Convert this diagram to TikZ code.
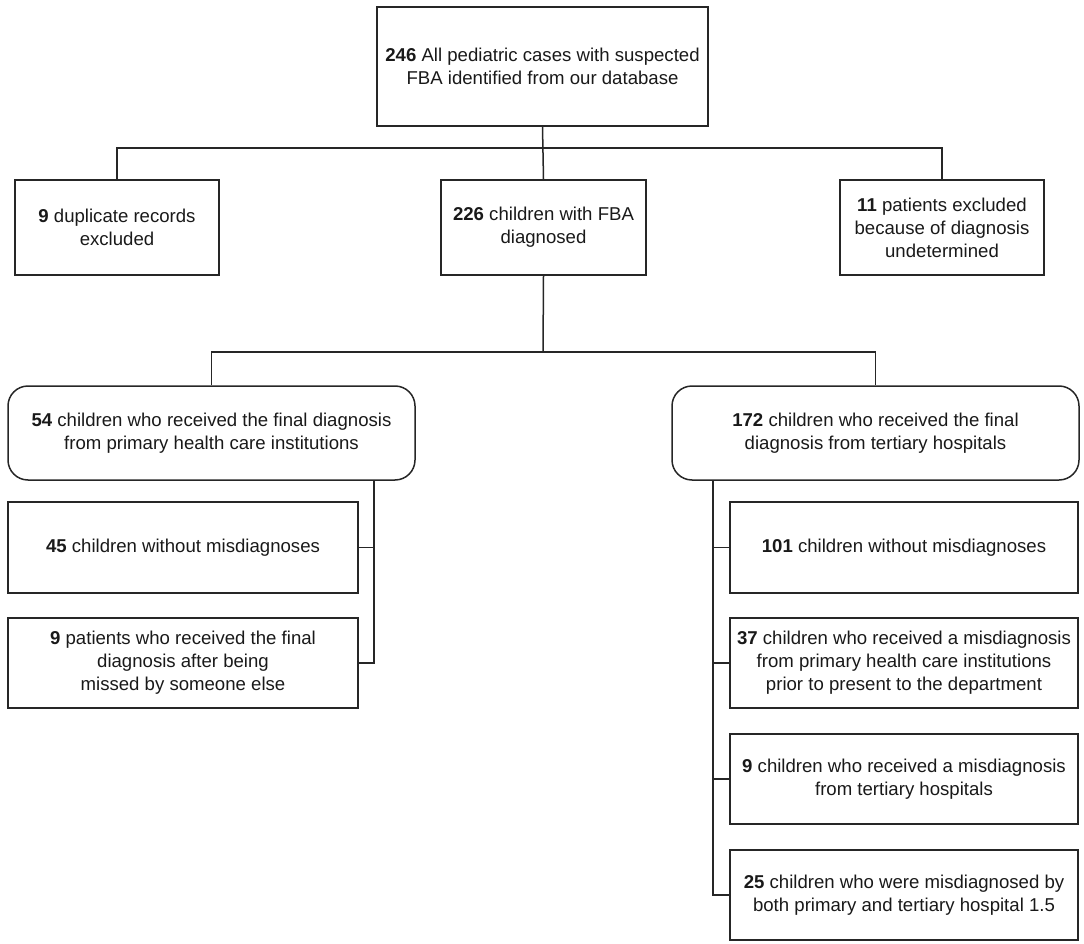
\documentclass[tikz,border=0pt]{standalone}
\usepackage{fontspec}
\setmainfont{Liberation Sans}
\begin{document}
\begin{tikzpicture}[x=1pt,y=1pt,
  every node/.style={font=\fontsize{18.6}{23}\selectfont, align=center, inner sep=0pt, text=black!90},
  box/.style={draw=black!85, line width=1.5pt, rectangle},
  rbox/.style={box, rounded corners=20pt},
  conn/.style={draw=black!85, line width=1.5pt}]
\useasboundingbox (0,0) rectangle (1084,-944);
\node[box, minimum width=331pt, minimum height=119pt] (top) at (542.5,-66.5) {\textbf{246} All pediatric cases with suspected\\FBA identified from our database};
\node[box, minimum width=204pt, minimum height=95pt] (dup) at (117,-227.5) {\textbf{9} duplicate records\\excluded};
\node[box, minimum width=205pt, minimum height=95pt] (fba) at (543.5,-227.5) {\textbf{226} children with FBA\\diagnosed};
\node[box, minimum width=204pt, minimum height=95pt] (und) at (942,-227.5) {\textbf{11} patients excluded\\because of diagnosis\\undetermined};
\node[rbox, minimum width=407pt, minimum height=94pt] (prim) at (211.5,-433) {\textbf{54} children who received the final diagnosis\\from primary health care institutions};
\node[rbox, minimum width=407pt, minimum height=94pt] (tert) at (875.5,-433) {\textbf{172} children who received the final\\diagnosis from tertiary hospitals};
\node[box, minimum width=350pt, minimum height=91pt] (p1) at (183,-547.5) {\textbf{45} children without misdiagnoses};
\node[box, minimum width=350pt, minimum height=90pt] (p2) at (183,-663) {\textbf{9} patients who received the final\\diagnosis after being\\missed by someone else};
\node[box, minimum width=348pt, minimum height=91pt] (t1) at (904,-547.5) {\textbf{101} children without misdiagnoses};
\node[box, minimum width=348pt, minimum height=90pt] (t2) at (904,-663) {\textbf{37} children who received a misdiagnosis\\from primary health care institutions\\prior to present to the department};
\node[box, minimum width=348pt, minimum height=90pt] (t3) at (904,-779) {\textbf{9} children who received a misdiagnosis\\from tertiary hospitals};
\node[box, minimum width=348pt, minimum height=90pt] (t4) at (904,-895) {\textbf{25} children who were misdiagnosed by\\both primary and tertiary hospital 1.5};
\coordinate (j1) at (543,-148);
\coordinate (j2) at (543,-352);
\coordinate (lb) at (374,-480);
\coordinate (rb) at (713,-480);
\draw[conn] (top.south) -- (fba.north);
\draw[conn] (dup.north) |- (j1) -| (und.north);
\draw[conn] (fba.south) -- (j2);
\draw[conn] (prim.north) |- (j2) -| (tert.north);
\draw[conn] (lb) |- (p2.east);
\draw[conn] (p1.east) -- (p1.east -| lb);
\draw[conn] (rb) |- (t4.west);
\draw[conn] (t1.west) -- (t1.west -| rb);
\draw[conn] (t2.west) -- (t2.west -| rb);
\draw[conn] (t3.west) -- (t3.west -| rb);
\end{tikzpicture}
\end{document}
